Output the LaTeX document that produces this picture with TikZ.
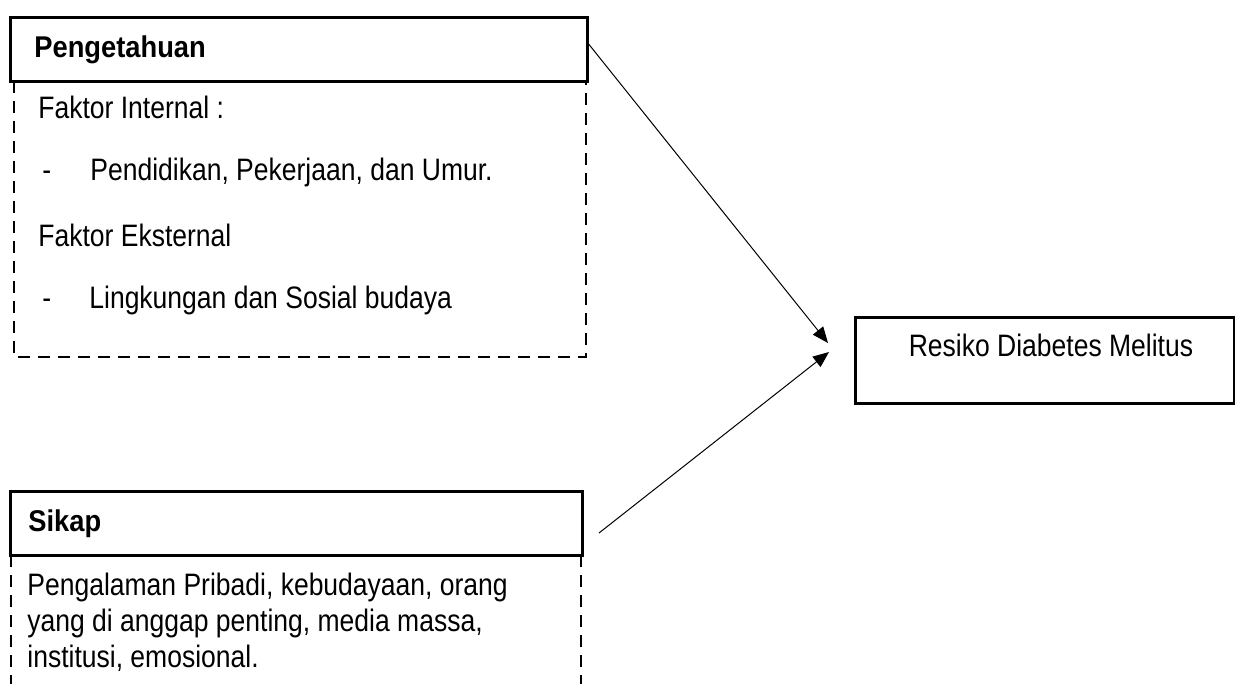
\documentclass[tikz,border=0pt]{standalone}
\usepackage{fontspec}
\setmainfont{Liberation Sans}[FakeStretch=0.855]
\newfontfamily\hdrfont{Liberation Sans}[FakeStretch=0.91]
\usetikzlibrary{arrows.meta}
\begin{document}
\begin{tikzpicture}[x=0.5pt,y=-0.5pt,
  every node/.style={font=\fontsize{15.5}{18}\selectfont},
  frame/.style={draw=black,line width=1.4pt},
  dashframe/.style={draw=black,line width=1.4pt,dash pattern=on 6pt off 4pt},
  hdr/.style={frame,anchor=north west,minimum height=32pt,align=left,font=\hdrfont\fontsize{15}{18}\selectfont\bfseries},
  txt/.style={anchor=base west,inner sep=0pt},
  conn/.style={line width=0.5pt,-{Triangle[length=8pt,width=6.5pt]}}]
\useasboundingbox (0,0) rectangle (1235,684);
% Pengetahuan
\node[hdr,inner xsep=12pt,text width=264.5pt] (peng) at (9,16) {Pengetahuan};
\draw[dashframe] (14,81) -- (14,357) -- (586,357) -- (586,81);
\node[txt] (fi) at (38,119) {Faktor Internal :};
\node[txt] (d1) at (42,181) {-};
\node[txt] (t1) at (90,181) {Pendidikan, Pekerjaan, dan Umur.};
\node[txt] (fe) at (38,246) {Faktor Eksternal};
\node[txt] (d2) at (42,308) {-};
\node[txt] (t2) at (89,308) {Lingkungan dan Sosial budaya};
% Sikap
\node[hdr,inner xsep=9pt,text width=268pt] (sik) at (9,490) {Sikap};
\draw[dashframe] (11,555) -- (11,700);
\draw[dashframe] (581,555) -- (581,700);
\node[txt] (s1) at (27,595) {Pengalaman Pribadi, kebudayaan, orang};
\node[txt] (s2) at (27,631) {yang di anggap penting, media massa,};
\node[txt] (s3) at (27,667) {institusi, emosional.};
% Result
\node[frame,anchor=north west,minimum width=189.5pt,minimum height=43pt] (res) at (854,316) {};
\node[inner sep=0pt,anchor=base] (rest) at (1051,356) {Resiko Diabetes Melitus};
% connectors
\coordinate (a1s) at (587,42);
\coordinate (a1e) at (828,343);
\coordinate (a2s) at (599,533);
\coordinate (a2e) at (829,352);
\draw[conn] (a1s) -- (a1e);
\draw[conn] (a2s) -- (a2e);
\end{tikzpicture}
\end{document}
